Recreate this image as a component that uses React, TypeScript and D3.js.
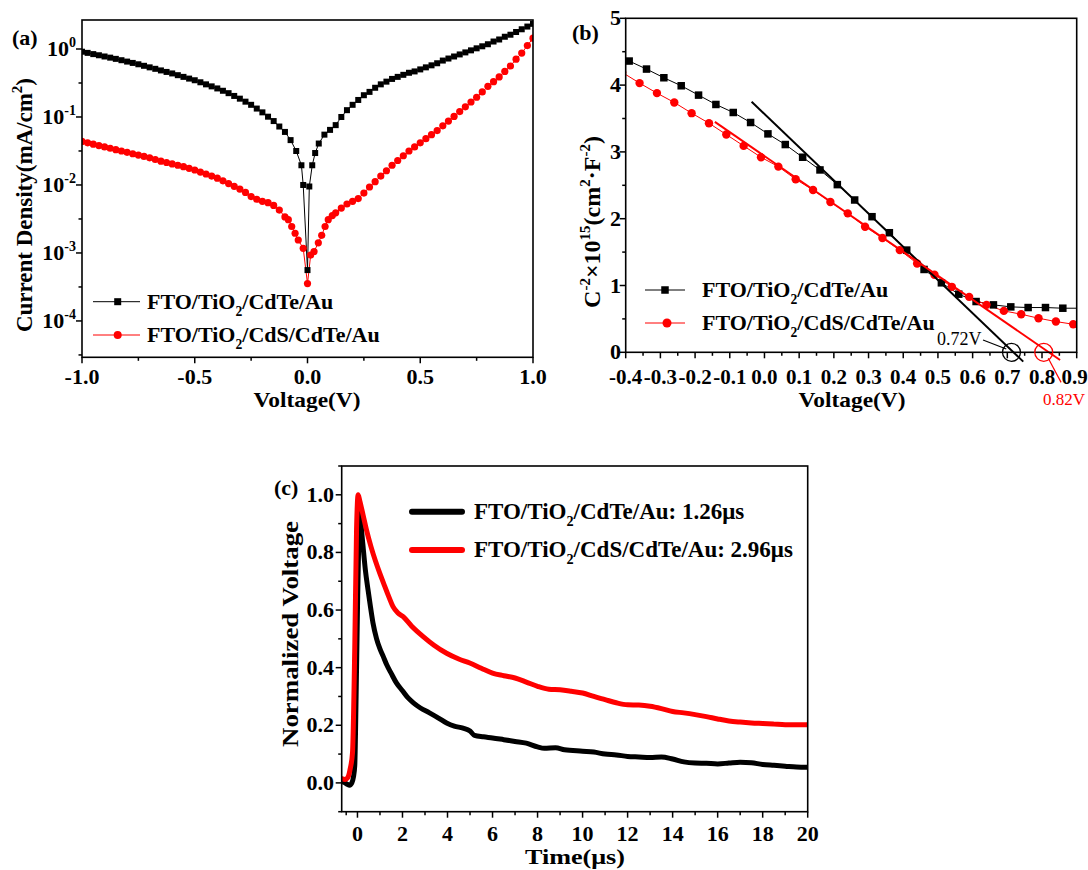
import React from 'react';
import * as d3 from 'd3';

const FONT = '"Liberation Serif", "Times New Roman", Times, serif';
const RED = '#ff0000';

// ---------------- Panel (a): J-V (log) ----------------
const ivBlack: [number, number][] = [
  [-1.0, 0.912], [-0.975, 0.877], [-0.95, 0.841], [-0.925, 0.809], [-0.9, 0.776],
  [-0.875, 0.746], [-0.85, 0.716], [-0.825, 0.684], [-0.8, 0.653], [-0.775, 0.624],
  [-0.75, 0.596], [-0.725, 0.566], [-0.7, 0.537], [-0.675, 0.511], [-0.65, 0.484],
  [-0.625, 0.46], [-0.6, 0.437], [-0.575, 0.412], [-0.55, 0.389], [-0.525, 0.367],
  [-0.5, 0.347], [-0.475, 0.324], [-0.45, 0.302], [-0.425, 0.282], [-0.4, 0.263],
  [-0.375, 0.243], [-0.35, 0.224], [-0.325, 0.204], [-0.3, 0.186], [-0.275, 0.168],
  [-0.25, 0.151], [-0.225, 0.133], [-0.2, 0.117], [-0.175, 0.101], [-0.15, 0.0871],
  [-0.125, 0.0724], [-0.1, 0.0603], [-0.075, 0.0457], [-0.05, 0.0316], [-0.027, 0.0195],
  [-0.019, 0.01], [0.0, 0.00056], [0.008, 0.0095], [0.021, 0.0195], [0.034, 0.0295],
  [0.05, 0.0407], [0.075, 0.055], [0.1, 0.0646], [0.125, 0.0759], [0.15, 0.1],
  [0.175, 0.126], [0.2, 0.151], [0.225, 0.178], [0.25, 0.209], [0.275, 0.234],
  [0.3, 0.269], [0.325, 0.302], [0.35, 0.331], [0.375, 0.363], [0.4, 0.389],
  [0.425, 0.417], [0.45, 0.447], [0.475, 0.468], [0.5, 0.501], [0.525, 0.537],
  [0.55, 0.575], [0.575, 0.617], [0.6, 0.676], [0.625, 0.724], [0.65, 0.776],
  [0.675, 0.832], [0.7, 0.891], [0.725, 0.955], [0.75, 1.023], [0.775, 1.096],
  [0.8, 1.175], [0.825, 1.288], [0.85, 1.38], [0.875, 1.514], [0.9, 1.622],
  [0.925, 1.778], [0.95, 1.95], [0.975, 2.138], [1.0, 2.344],
];
const ivRed: [number, number][] = [
  [-1.0, 0.0437], [-0.975, 0.0417], [-0.95, 0.0398], [-0.925, 0.038], [-0.9, 0.0363],
  [-0.875, 0.0347], [-0.85, 0.0331], [-0.825, 0.0316], [-0.8, 0.0302], [-0.775, 0.0288],
  [-0.75, 0.0275], [-0.725, 0.0263], [-0.7, 0.0251], [-0.675, 0.0237], [-0.65, 0.0224],
  [-0.625, 0.0214], [-0.6, 0.0204], [-0.575, 0.0195], [-0.55, 0.0186], [-0.525, 0.0176],
  [-0.5, 0.0166], [-0.475, 0.0155], [-0.45, 0.0145], [-0.425, 0.0135], [-0.4, 0.0126],
  [-0.375, 0.0115], [-0.35, 0.0105], [-0.325, 0.00955], [-0.3, 0.00871], [-0.275, 0.00776],
  [-0.25, 0.00676], [-0.225, 0.00617], [-0.2, 0.00575], [-0.175, 0.0055], [-0.15, 0.00501],
  [-0.125, 0.00427], [-0.1, 0.00339], [-0.085, 0.00309], [-0.07, 0.00245], [-0.055, 0.00195],
  [-0.041, 0.00155], [-0.019, 0.00117], [0.0, 0.000355], [0.014, 0.00093], [0.029, 0.00105],
  [0.048, 0.00141], [0.063, 0.00182], [0.078, 0.00245], [0.092, 0.00309], [0.11, 0.00355],
  [0.125, 0.00389], [0.15, 0.00457], [0.175, 0.00525], [0.2, 0.00575], [0.225, 0.00631],
  [0.25, 0.00759], [0.275, 0.00933], [0.3, 0.0112], [0.325, 0.0135], [0.35, 0.0162],
  [0.375, 0.0195], [0.4, 0.0229], [0.425, 0.0269], [0.45, 0.0316], [0.475, 0.0363],
  [0.5, 0.0417], [0.525, 0.0479], [0.55, 0.055], [0.575, 0.0631], [0.6, 0.0741],
  [0.625, 0.0871], [0.65, 0.102], [0.675, 0.12], [0.7, 0.141], [0.725, 0.166],
  [0.75, 0.195], [0.775, 0.234], [0.8, 0.282], [0.825, 0.331], [0.85, 0.389],
  [0.875, 0.468], [0.9, 0.562], [0.925, 0.708], [0.95, 0.871], [0.975, 1.122], [1.0, 1.445],
];
const aXTicks = [-1.0, -0.5, 0.0, 0.5, 1.0];
const aXMinor = [-0.75, -0.25, 0.25, 0.75];
const aYExponents = [0, -1, -2, -3, -4];
const aYMinorExponents = [-0.5, -1.5, -2.5, -3.5, -4.5];

// ---------------- Panel (b): Mott-Schottky ----------------
const msBlackV = [-0.39, -0.34, -0.29, -0.24, -0.19, -0.14, -0.09, -0.04, 0.01, 0.06, 0.11, 0.16, 0.21,
  0.26, 0.31, 0.36, 0.41, 0.46, 0.51, 0.56, 0.61, 0.66, 0.71, 0.76, 0.81, 0.86, 0.91];
const msBlackC = [4.36, 4.24, 4.11, 3.99, 3.85, 3.71, 3.59, 3.44, 3.27, 3.11, 2.92, 2.73, 2.51,
  2.28, 2.03, 1.79, 1.53, 1.24, 1.04, 0.87, 0.76, 0.71, 0.68, 0.67, 0.67, 0.66, 0.66];
const msRedV = [-0.41, -0.36, -0.31, -0.26, -0.21, -0.16, -0.11, -0.06, -0.01, 0.04, 0.09, 0.14, 0.19,
  0.24, 0.29, 0.34, 0.39, 0.44, 0.49, 0.54, 0.59, 0.64, 0.69, 0.74, 0.79, 0.84, 0.89];
const msRedC = [4.19, 4.03, 3.88, 3.74, 3.58, 3.43, 3.26, 3.09, 2.92, 2.78, 2.59, 2.43, 2.25,
  2.08, 1.88, 1.71, 1.53, 1.33, 1.16, 0.98, 0.83, 0.71, 0.62, 0.57, 0.51, 0.46, 0.42];
const fitBlack: [number, number][] = [[-0.037, 3.75], [0.746, -0.14]];
const fitRed: [number, number][] = [[-0.143, 3.45], [0.852, -0.115]];
const interceptBlack = { label: '0.72V', v: 0.712 };
const interceptRed = { label: '0.82V', v: 0.805 };
const bXTicks = [-0.4, -0.3, -0.2, -0.1, 0.0, 0.1, 0.2, 0.3, 0.4, 0.5, 0.6, 0.7, 0.8, 0.9];
const bYTicks = [0, 1, 2, 3, 4, 5];

// ---------------- Panel (c): transient photovoltage ----------------
const tpvBlack: [number, number][] = [
  [-0.7, 0.005], [-0.55, 0.0], [-0.45, -0.005], [-0.35, -0.008], [-0.25, 0.0], [-0.18, 0.02],
  [-0.12, 0.06], [-0.06, 0.3], [0.0, 0.6], [0.06, 0.85], [0.12, 0.945], [0.18, 0.88],
  [0.25, 0.82], [0.35, 0.74], [0.47, 0.67], [0.58, 0.61], [0.69, 0.555], [0.85, 0.5],
  [1.0, 0.465], [1.14, 0.44], [1.3, 0.41], [1.5, 0.38], [1.73, 0.347], [2.0, 0.32],
  [2.25, 0.295], [2.5, 0.277], [2.8, 0.26], [3.2, 0.243], [3.6, 0.225], [3.96, 0.208],
  [4.3, 0.197], [4.69, 0.19], [5.0, 0.18], [5.2, 0.165], [5.6, 0.16], [6.0, 0.156],
  [6.5, 0.15], [7.0, 0.144], [7.5, 0.138], [8.0, 0.125], [8.3, 0.12], [8.8, 0.122],
  [9.2, 0.115], [10.0, 0.11], [10.5, 0.107], [11.0, 0.1], [11.5, 0.097], [12.0, 0.092],
  [12.5, 0.09], [13.0, 0.088], [13.5, 0.09], [14.0, 0.083], [14.5, 0.073], [15.0, 0.069],
  [15.5, 0.068], [16.0, 0.066], [16.5, 0.069], [17.0, 0.072], [17.5, 0.07], [18.0, 0.064],
  [18.5, 0.061], [19.0, 0.058], [19.5, 0.055], [20.0, 0.054],
];
const tpvRed: [number, number][] = [
  [-0.7, 0.015], [-0.55, 0.012], [-0.42, 0.02], [-0.32, 0.05], [-0.22, 0.105], [-0.12, 0.47],
  [-0.04, 0.88], [0.03, 1.0], [0.1, 0.98], [0.25, 0.93], [0.4, 0.878], [0.6, 0.82],
  [0.8, 0.77], [0.99, 0.728], [1.2, 0.685], [1.4, 0.645], [1.58, 0.612], [1.8, 0.59],
  [2.03, 0.577], [2.4, 0.545], [2.92, 0.508], [3.4, 0.478], [3.96, 0.45], [4.5, 0.43],
  [4.99, 0.416], [5.5, 0.398], [6.0, 0.381], [6.5, 0.372], [7.0, 0.364], [7.5, 0.35],
  [8.0, 0.335], [8.5, 0.325], [9.0, 0.323], [9.5, 0.318], [10.0, 0.312], [10.5, 0.3],
  [11.0, 0.289], [11.5, 0.278], [12.0, 0.271], [12.5, 0.27], [13.0, 0.266], [13.5, 0.258],
  [14.0, 0.248], [14.5, 0.243], [15.0, 0.237], [15.5, 0.23], [16.0, 0.222], [16.5, 0.215],
  [17.0, 0.211], [17.5, 0.208], [18.0, 0.206], [18.5, 0.204], [19.0, 0.202], [19.5, 0.202],
  [20.0, 0.202],
];
const cXTicks = [0, 2, 4, 6, 8, 10, 12, 14, 16, 18, 20];
const cXMinor = [-0.5, 1, 3, 5, 7, 9, 11, 13, 15, 17, 19];
const cYTicks = [0.0, 0.2, 0.4, 0.6, 0.8, 1.0];
const cYMinor = [-0.1, 0.1, 0.3, 0.5, 0.7, 0.9, 1.1];
const cLegend = ['FTO/TiO|2|/CdTe/Au: 1.26μs', 'FTO/TiO|2|/CdS/CdTe/Au: 2.96μs'];
const abLegend = ['FTO/TiO|2|/CdTe/Au', 'FTO/TiO|2|/CdS/CdTe/Au'];

const MAJ = 6;
const MIN = 3.5;

// text with "|x|" marking subscripts
function SubText({ x, y, text, size = 22, fill = '#000', weight = 'bold' }: any) {
  const parts = text.split('|');
  return (
    <text x={x} y={y} fontFamily={FONT} fontSize={size} fontWeight={weight} fill={fill}>
      {parts.map((p: string, i: number) =>
        i % 2 === 1 ? (
          <tspan key={i} fontSize={size * 0.62} dy={size * 0.3}>{p}</tspan>
        ) : (
          <tspan key={i} dy={i === 0 ? 0 : -size * 0.3}>{p}</tspan>
        )
      )}
    </text>
  );
}

export default function App() {
  // ---------- scales ----------
  const ax = d3.scaleLinear().domain([-1, 1]).range([82, 533]);
  const ay = d3.scaleLog().domain([2.92e-5, 2.67]).range([357.3, 20]);
  const bx = d3.scaleLinear().domain([-0.4, 0.9]).range([625.7, 1076.7]);
  const by = d3.scaleLinear().domain([0, 5]).range([352.3, 18.3]);
  const cx = d3.scaleLinear().domain([-0.7, 20]).range([341.7, 807.7]);
  const cy = d3.scaleLinear().domain([-0.1, 1.1]).range([811.7, 466]);

  const aLine = d3.line<[number, number]>().x(d => ax(d[0])).y(d => ay(d[1]));
  const bLine = d3.line<[number, number]>().x(d => bx(d[0])).y(d => by(d[1]));
  const cLine = d3.line<[number, number]>().x(d => cx(d[0])).y(d => cy(d[1])).curve(d3.curveMonotoneX);

  const bBlack: [number, number][] = msBlackV.map((v, i) => [v, msBlackC[i]]);
  const bRed: [number, number][] = msRedV.map((v, i) => [v, msRedC[i]]);

  const [ax0, ax1] = ax.range();
  const [ay0, ay1] = ay.range();
  const [bx0, bx1] = bx.range();
  const [by0, by1] = by.range();
  const [cx0, cx1] = cx.range();
  const [cy0, cy1] = cy.range();

  const sq = 6;
  const bsq = 7.5;

  return (
    <svg width={1088} height={870} style={{ position: 'absolute', left: 0, top: 0, background: '#fff' }}
      fontFamily={FONT}>
      <defs>
        <clipPath id="clipA"><rect x={ax0} y={ay1} width={ax1 - ax0} height={ay0 - ay1} /></clipPath>
        <clipPath id="clipB"><rect x={bx0} y={by1} width={bx1 - bx0} height={by0 - by1} /></clipPath>
        <clipPath id="clipC"><rect x={cx0} y={cy1} width={cx1 - cx0} height={cy0 - cy1} /></clipPath>
      </defs>
      <rect x={0} y={0} width={1088} height={870} fill="#fff" />

      {/* ================= Panel (a) ================= */}
      <g>
        <g clipPath="url(#clipA)">
          <path d={aLine(ivBlack) || ''} fill="none" stroke="#000" strokeWidth={1} />
          <path d={aLine(ivRed) || ''} fill="none" stroke={RED} strokeWidth={1} />
          {ivBlack.map((d, i) => (
            <rect key={'ab' + i} x={ax(d[0]) - sq / 2} y={ay(d[1]) - sq / 2} width={sq} height={sq} fill="#000" />
          ))}
          {ivRed.map((d, i) => (
            <circle key={'ar' + i} cx={ax(d[0])} cy={ay(d[1])} r={3.6} fill={RED} />
          ))}
        </g>
        <rect x={ax0} y={ay1} width={ax1 - ax0} height={ay0 - ay1} fill="none" stroke="#000" strokeWidth={1.6} />
        {aXTicks.map(t => (
          <g key={'axt' + t}>
            <line x1={ax(t)} x2={ax(t)} y1={ay0} y2={ay0 + MAJ} stroke="#000" strokeWidth={1.5} />
            <text x={ax(t)} y={384} textAnchor="middle" fontSize={22} fontWeight="bold">{t.toFixed(1)}</text>
          </g>
        ))}
        {aXMinor.map(t => (
          <line key={'axm' + t} x1={ax(t)} x2={ax(t)} y1={ay0} y2={ay0 + MIN} stroke="#000" strokeWidth={1.5} />
        ))}
        {aYExponents.map(e => (
          <g key={'ayt' + e}>
            <line x1={ax0 - MAJ} x2={ax0} y1={ay(10 ** e)} y2={ay(10 ** e)} stroke="#000" strokeWidth={1.5} />
            <text x={76} y={ay(10 ** e) + 7} textAnchor="end" fontSize={22} fontWeight="bold">
              10<tspan fontSize={14} dy={-9}>{e}</tspan>
            </text>
          </g>
        ))}
        {aYMinorExponents.map(e => (
          <line key={'aym' + e} x1={ax0 - MIN} x2={ax0} y1={ay(10 ** e)} y2={ay(10 ** e)} stroke="#000" strokeWidth={1.5} />
        ))}
        <text x={307} y={407} textAnchor="middle" fontSize={22} fontWeight="bold"
          textLength={107} lengthAdjust="spacingAndGlyphs">Voltage(V)</text>
        <text transform={`translate(32,${205}) rotate(-90)`} textAnchor="middle" fontSize={23} fontWeight="bold"
          textLength={254} lengthAdjust="spacingAndGlyphs">
          Current Density(mA/cm<tspan fontSize={15} dy={-10}>2</tspan><tspan dy={10}>)</tspan>
        </text>
        <text x={12} y={45} fontSize={22} fontWeight="bold">(a)</text>
        {/* legend */}
        <line x1={93} x2={140} y1={301.7} y2={301.7} stroke="#000" strokeWidth={1} />
        <rect x={117.7 - 3.5} y={301.7 - 3.5} width={7} height={7} fill="#000" />
        <SubText x={147} y={309} text={abLegend[0]} />
        <line x1={93} x2={140} y1={335} y2={335} stroke={RED} strokeWidth={1} />
        <circle cx={117.7} cy={335} r={4} fill={RED} />
        <SubText x={147} y={342} text={abLegend[1]} />
      </g>

      {/* ================= Panel (b) ================= */}
      <g>
        <g clipPath="url(#clipB)">
          <path d={bLine(bBlack) || ''} fill="none" stroke="#000" strokeWidth={1} />
          <path d={bLine(bRed) || ''} fill="none" stroke={RED} strokeWidth={1} />
          {bBlack.map((d, i) => (
            <rect key={'bb' + i} x={bx(d[0]) - bsq / 2} y={by(d[1]) - bsq / 2} width={bsq} height={bsq} fill="#000" />
          ))}
          {bRed.map((d, i) => (
            <circle key={'br' + i} cx={bx(d[0])} cy={by(d[1])} r={4.2} fill={RED} />
          ))}
        </g>
        <path d={bLine(fitBlack) || ''} stroke="#000" strokeWidth={2} fill="none" />
        <path d={bLine(fitRed) || ''} stroke={RED} strokeWidth={2} fill="none" />
        <rect x={bx0} y={by1} width={bx1 - bx0} height={by0 - by1} fill="none" stroke="#000" strokeWidth={1.6} />
        {bXTicks.map(t => (
          <g key={'bxt' + t}>
            <line x1={bx(t)} x2={bx(t)} y1={by0} y2={by0 + MAJ} stroke="#000" strokeWidth={1.5} />
            <text x={t === 0.9 ? bx(t) - 2 : bx(t)} y={384} textAnchor="middle" fontSize={21} fontWeight="bold">{t.toFixed(1)}</text>
          </g>
        ))}
        {bXTicks.slice(0, -1).map(t => (
          <line key={'bxm' + t} x1={bx(t + 0.05)} x2={bx(t + 0.05)} y1={by0} y2={by0 + MIN} stroke="#000" strokeWidth={1.5} />
        ))}
        {bYTicks.map(t => (
          <g key={'byt' + t}>
            <line x1={bx0 - MAJ} x2={bx0} y1={by(t)} y2={by(t)} stroke="#000" strokeWidth={1.5} />
            <text x={621} y={by(t) + 7} textAnchor="end" fontSize={22} fontWeight="bold">{t}</text>
          </g>
        ))}
        {bYTicks.slice(0, -1).map(t => (
          <line key={'bym' + t} x1={bx0 - MIN} x2={bx0} y1={by(t + 0.5)} y2={by(t + 0.5)} stroke="#000" strokeWidth={1.5} />
        ))}
        {/* intercept annotations */}
        <circle cx={bx(interceptBlack.v)} cy={by(0)} r={9} fill="none" stroke="#000" strokeWidth={1.3} />
        <circle cx={bx(interceptRed.v)} cy={by(0)} r={9} fill="none" stroke={RED} strokeWidth={1.3} />
        <line x1={bx(0.63)} y1={by(0.185)} x2={bx(0.697)} y2={by(0.05)} stroke="#000" strokeWidth={1.2} />
        <line x1={bx(0.818)} y1={by(-0.09)} x2={bx(0.855)} y2={by(-0.45)} stroke={RED} strokeWidth={1.2} />
        <text x={937} y={345} fontSize={18} fill="#000">{interceptBlack.label}</text>
        <text x={1043} y={405} fontSize={17} fill={RED}>{interceptRed.label}</text>
        <text x={852} y={407} textAnchor="middle" fontSize={22} fontWeight="bold"
          textLength={107} lengthAdjust="spacingAndGlyphs">Voltage(V)</text>
        <text transform={`translate(600,${222}) rotate(-90)`} textAnchor="middle" fontSize={24} fontWeight="bold">
          C<tspan fontSize={15} dy={-10}>-2</tspan><tspan dy={10}>×10</tspan><tspan fontSize={15} dy={-10}>15</tspan>
          <tspan dy={10}>(cm</tspan><tspan fontSize={15} dy={-10}>2</tspan><tspan dy={10}>·F</tspan>
          <tspan fontSize={15} dy={-10}>-2</tspan><tspan dy={10}>)</tspan>
        </text>
        <text x={572} y={40} fontSize={22} fontWeight="bold">(b)</text>
        {/* legend */}
        <line x1={645} x2={685} y1={290} y2={290} stroke="#000" strokeWidth={1} />
        <rect x={665 - 3.75} y={290 - 3.75} width={7.5} height={7.5} fill="#000" />
        <SubText x={702} y={297} text={abLegend[0]} />
        <line x1={645} x2={685} y1={323} y2={323} stroke={RED} strokeWidth={1} />
        <circle cx={667} cy={323} r={4.5} fill={RED} />
        <SubText x={702} y={330} text={abLegend[1]} />
      </g>

      {/* ================= Panel (c) ================= */}
      <g>
        <g clipPath="url(#clipC)">
          <path d={cLine(tpvBlack) || ''} fill="none" stroke="#000" strokeWidth={5} strokeLinejoin="round" strokeLinecap="round" />
          <path d={cLine(tpvRed) || ''} fill="none" stroke={RED} strokeWidth={5} strokeLinejoin="round" strokeLinecap="round" />
        </g>
        <rect x={cx0} y={cy1} width={cx1 - cx0} height={cy0 - cy1} fill="none" stroke="#000" strokeWidth={1.6} />
        {cXTicks.map(t => (
          <g key={'cxt' + t}>
            <line x1={cx(t)} x2={cx(t)} y1={cy0} y2={cy0 + MAJ} stroke="#000" strokeWidth={1.5} />
            <text x={cx(t)} y={841} textAnchor="middle" fontSize={22} fontWeight="bold">{t}</text>
          </g>
        ))}
        {cXMinor.map(t => (
          <line key={'cxm' + t} x1={cx(t)} x2={cx(t)} y1={cy0} y2={cy0 + MIN} stroke="#000" strokeWidth={1.5} />
        ))}
        {cYTicks.map(t => (
          <g key={'cyt' + t}>
            <line x1={cx0 - MAJ} x2={cx0} y1={cy(t)} y2={cy(t)} stroke="#000" strokeWidth={1.5} />
            <text x={334} y={cy(t) + 7} textAnchor="end" fontSize={22} fontWeight="bold">{t.toFixed(1)}</text>
          </g>
        ))}
        {cYMinor.map(t => (
          <line key={'cym' + t} x1={cx0 - MIN} x2={cx0} y1={cy(t)} y2={cy(t)} stroke="#000" strokeWidth={1.5} />
        ))}
        <text x={575} y={864} textAnchor="middle" fontSize={22} fontWeight="bold"
          textLength={100} lengthAdjust="spacingAndGlyphs">Time(μs)</text>
        <text transform={`translate(298,${634}) rotate(-90)`} textAnchor="middle" fontSize={24} fontWeight="bold"
          textLength={226} lengthAdjust="spacingAndGlyphs">
          Normalized Voltage
        </text>
        <text x={274} y={495} fontSize={22} fontWeight="bold">(c)</text>
        {/* legend */}
        <line x1={412} x2={462} y1={511.7} y2={511.7} stroke="#000" strokeWidth={6} strokeLinecap="round" />
        <SubText x={474} y={519} size={23} text={cLegend[0]} />
        <line x1={412} x2={462} y1={550} y2={550} stroke={RED} strokeWidth={6} strokeLinecap="round" />
        <SubText x={474} y={557} size={23} text={cLegend[1]} />
      </g>
    </svg>
  );
}
